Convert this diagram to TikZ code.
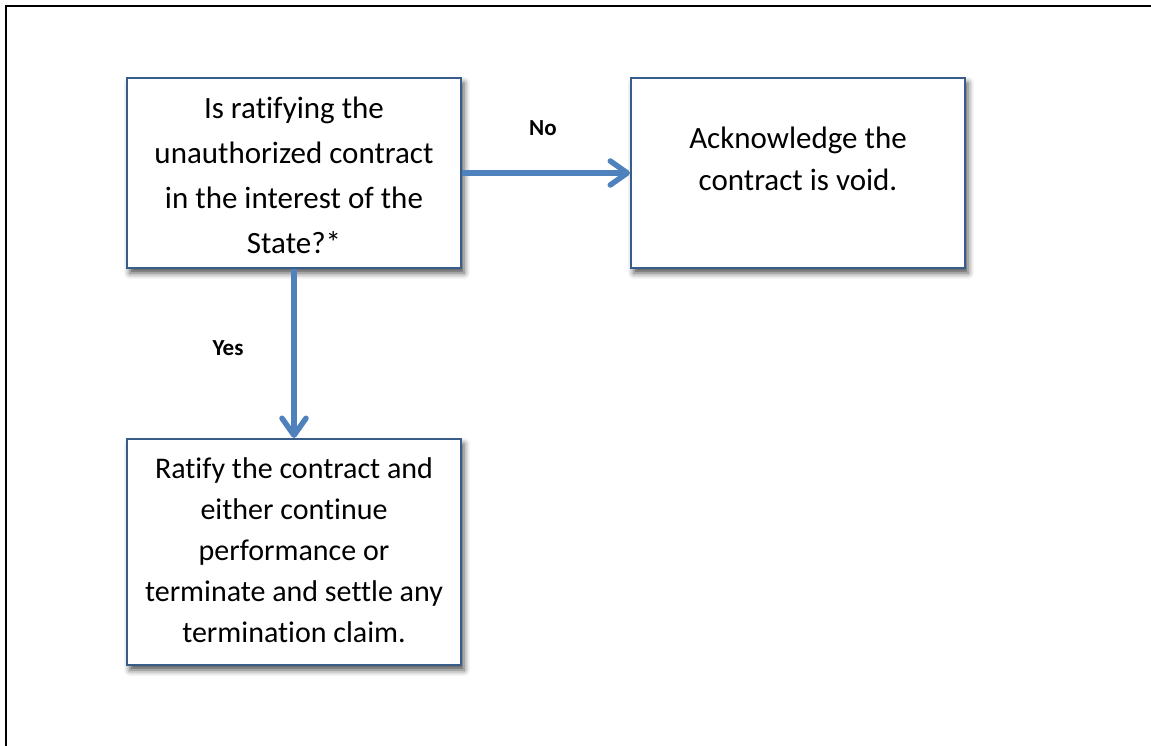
\documentclass[tikz,border=0pt]{standalone}
\usepackage{fontspec}
\setmainfont{Carlito}[Ligatures=NoCommon]
\usetikzlibrary{arrows.meta,shadows.blur}
\definecolor{boxblue}{HTML}{385D8A}
\definecolor{arrowblue}{HTML}{4F81BD}
\begin{document}
\begin{tikzpicture}[x=1pt,y=-1pt,
  box/.style={draw=boxblue, line width=2pt, fill=white, inner sep=0pt,
    blur shadow={shadow xshift=3pt, shadow yshift=-5pt, shadow blur radius=6pt, shadow opacity=70}},
  txt/.style={align=center, inner sep=0pt, text=black},
  flow/.style={draw=arrowblue, line width=5.5pt, -{Straight Barb[length=17pt,width=24pt,round]}},
  lbl/.style={font=\fontsize{23}{27}\selectfont\bfseries, inner sep=0pt}]
\useasboundingbox (0,0) rectangle (1151,746);
\draw[line width=2pt] (6,746) -- (6,6) -- (1151,6);
% boxes
\node[box, minimum width=334pt, minimum height=190pt] (b1) at (294,173) {};
\node[box, minimum width=334pt, minimum height=190pt] (b2) at (798,173) {};
\node[box, minimum width=334pt, minimum height=226pt] (b3) at (294,552) {};
% texts
\node[txt, font=\fontsize{31}{45}\selectfont] (t1) at (294,175)
  {Is ratifying the\\unauthorized contract\\in the interest of the\\State?*};
\node[txt, font=\fontsize{31}{42}\selectfont] (t2) at (798,159)
  {Acknowledge the\\contract is void.};
\node[txt, font=\fontsize{30}{41}\selectfont] (t3) at (294,550)
  {Ratify the contract and\\either continue\\performance or\\terminate and settle any\\termination claim.};
% connectors
\draw[flow] (b1.east) -- (b2.west);
\draw[flow] (b1.south) -- (b3.north);
\node[lbl] (no) at (543,128) {No};
\node[lbl] (yes) at (228,348) {Yes};
\end{tikzpicture}
\end{document}
